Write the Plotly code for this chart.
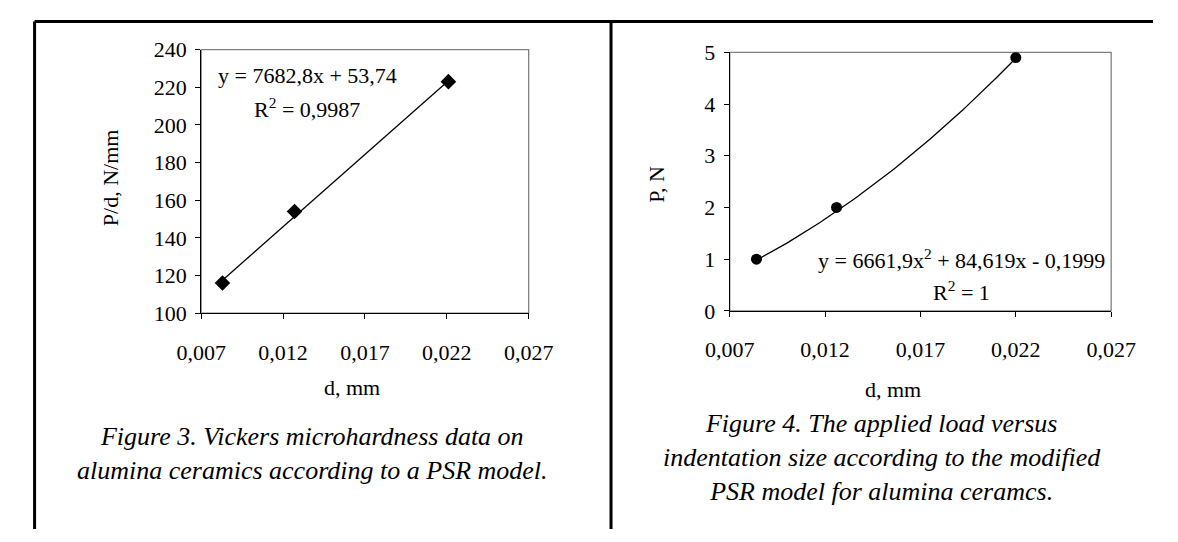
import numpy as np
import plotly.graph_objects as go

# ---- data ----
d_left = [0.0083, 0.0127, 0.0221]          # d, mm
p_over_d = [116, 154, 223]                 # P/d, N/mm
lin_coef = [7682.8, 53.74]                 # trendline y = a x + b

d_right = [0.0084, 0.0126, 0.0220]         # d, mm
load_p = [1, 2, 4.9]                       # P, N
quad_coef = [6661.9, 84.619, -0.1999]      # trendline y = a x^2 + b x + c

x_ticks = [0.007, 0.012, 0.017, 0.022, 0.027]
x_tick_text = ["0,007", "0,012", "0,017", "0,022", "0,027"]
yl_ticks = [100, 120, 140, 160, 180, 200, 220, 240]
yr_ticks = [0, 1, 2, 3, 4, 5]

eq_left = ["y = 7682,8x + 53,74", "R<sup>2</sup> = 0,9987"]
eq_right = ["y = 6661,9x<sup>2</sup> + 84,619x - 0,1999", "R<sup>2</sup> = 1"]
cap_left = "Figure 3. Vickers microhardness data on<br>alumina ceramics according to a PSR model."
cap_right = ("Figure 4. The applied load versus<br>indentation size according to the modified"
             "<br>PSR model for alumina ceramcs.")

W, H = 1178, 542
FONT = "Liberation Serif, Times New Roman, serif"
FS = 22


def px(x):
    return x / W


def py(y):
    return 1 - y / H


fig = go.Figure()

# left chart trendline + points
xl = np.linspace(min(d_left), max(d_left), 50)
fig.add_trace(go.Scatter(x=xl, y=np.polyval(lin_coef, xl), mode="lines",
                         line=dict(color="black", width=1.3), xaxis="x", yaxis="y",
                         hoverinfo="skip"))
fig.add_trace(go.Scatter(x=d_left, y=p_over_d, mode="markers",
                         marker=dict(symbol="diamond", size=12, color="black"),
                         xaxis="x", yaxis="y"))

# right chart trendline + points
xr = np.linspace(min(d_right), max(d_right), 80)
fig.add_trace(go.Scatter(x=xr, y=np.polyval(quad_coef, xr), mode="lines",
                         line=dict(color="black", width=1.3), xaxis="x2", yaxis="y2",
                         hoverinfo="skip"))
fig.add_trace(go.Scatter(x=d_right, y=load_p, mode="markers",
                         marker=dict(symbol="circle", size=11, color="black"),
                         xaxis="x2", yaxis="y2"))

axis_common = dict(showgrid=False, zeroline=False, showline=True, linecolor="black",
                   linewidth=1, ticks="outside", ticklen=5, tickcolor="black",
                   tickfont=dict(family=FONT, size=FS, color="black"))

fig.update_layout(
    width=W, height=H, margin=dict(l=0, r=0, t=0, b=0),
    paper_bgcolor="white", plot_bgcolor="white", showlegend=False,
    font=dict(family=FONT, size=FS, color="black"),
    xaxis=dict(domain=[px(184), px(526)], range=[0.007, 0.027], tickvals=x_ticks,
               ticktext=x_tick_text, anchor="y", ticklabelstandoff=14, **axis_common),
    yaxis=dict(domain=[py(315.7), py(39.5)], range=[100, 240], tickvals=yl_ticks,
               anchor="x", ticklabelstandoff=4, **axis_common),
    xaxis2=dict(domain=[px(736), px(1134.3)], range=[0.007, 0.027], tickvals=x_ticks,
                ticktext=x_tick_text, anchor="y2", ticklabelstandoff=14, **axis_common),
    yaxis2=dict(domain=[py(313.3), py(42.3)], range=[0, 5], tickvals=yr_ticks,
                anchor="x2", ticklabelstandoff=4, **axis_common),
)

# gray plot frames (top/right)
for xa, ya in (("x", "y"), ("x2", "y2")):
    fig.add_shape(type="rect", xref=f"{xa} domain", yref=f"{ya} domain",
                  x0=0, x1=1, y0=0, y1=1, line=dict(color="#808080", width=1.3),
                  layer="below")

# outer borders
border = dict(color="black", width=3)
fig.add_shape(type="line", xref="paper", yref="paper", x0=px(10), x1=1, y0=py(10), y1=py(10), line=border)
fig.add_shape(type="line", xref="paper", yref="paper", x0=px(10), x1=px(10), y0=py(10), y1=0, line=border)
fig.add_shape(type="line", xref="paper", yref="paper", x0=px(612), x1=px(612), y0=py(10), y1=0, line=border)


def ann(text, x, y, size=FS, italic=False, angle=0):
    fig.add_annotation(text=text, xref="paper", yref="paper", x=px(x), y=py(y),
                       showarrow=False, xanchor="center", yanchor="middle", textangle=angle,
                       font=dict(family=FONT, size=size, color="black",
                                 style="italic" if italic else "normal"))


# equations
ann(eq_left[0], 295, 67)
ann(eq_left[1], 295, 101)
ann(eq_right[0], 978, 259)
ann(eq_right[1], 978, 293)

# axis titles
ann("P/d, N/mm", 90, 174, angle=-90)
ann("d, mm", 341, 394)
ann("P, N", 660, 180, angle=-90)
ann("d, mm", 906, 396)

# captions
ann(cap_left, 300, 463, size=26, italic=True)
ann(cap_right, 895, 467, size=26, italic=True)

fig.write_html(
    "out.html",
    config={"displayModeBar": False},
    post_script="document.body.style.margin='0';document.body.style.overflow='hidden';"
                "document.documentElement.style.overflow='hidden';",
)
